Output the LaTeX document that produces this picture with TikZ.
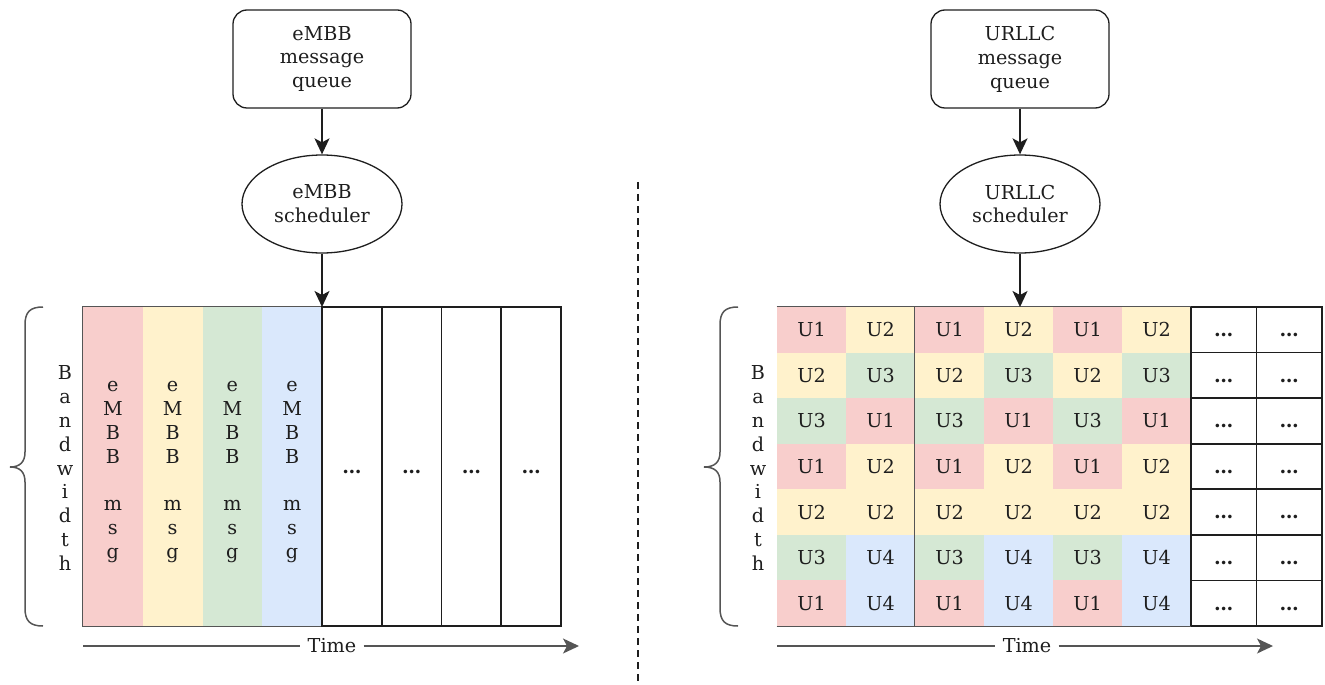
\documentclass[tikz,border=0pt]{standalone}
\usepackage{fontspec}
\setmainfont{DejaVu Serif}
\usetikzlibrary{shapes.geometric,arrows.meta}

\definecolor{cU1}{HTML}{F8CECC}
\definecolor{cU2}{HTML}{FFF2CC}
\definecolor{cU3}{HTML}{D5E8D4}
\definecolor{cU4}{HTML}{DAE8FC}
\definecolor{ink}{HTML}{1E1E1E}
\definecolor{edge}{HTML}{555555}

\begin{document}
\begin{tikzpicture}[x=0.5pt,y=-0.5pt,
  every node/.style={font=\fontsize{9.6}{11.95}\selectfont, text=ink},
  queuebox/.style={draw=ink, rounded corners=7pt, line width=0.65pt,
    minimum width=89pt, minimum height=49pt, align=center, inner sep=0pt},
  sched/.style={draw=ink, ellipse, line width=0.65pt, minimum width=80pt,
    minimum height=49pt, align=center, inner sep=0pt},
  flow/.style={draw=ink, line width=0.7pt, -{Stealth[length=8pt,width=7.5pt,inset=2pt]}},
  axisline/.style={draw=edge, line width=0.65pt},
  timelbl/.style={fill=white, inner xsep=3.5pt, inner ysep=1pt},
  msgcol/.style={minimum width=29.875pt, minimum height=159.5pt, inner sep=0pt, align=center},
  freecol/.style={msgcol, draw=ink, line width=0.8pt},
  cell/.style={minimum width=34.5pt, minimum height=22.786pt, inner sep=0pt},
  freecell/.style={minimum width=32.75pt, minimum height=22.786pt, inner sep=0pt, draw=ink, line width=0.8pt},
  U1/.style={fill=cU1}, U2/.style={fill=cU2}, U3/.style={fill=cU3}, U4/.style={fill=cU4},
  brace/.style={draw=edge, line width=0.75pt},
  divider/.style={draw=ink, line width=0.9pt, dash pattern=on 3.5pt off 2.5pt}
]
\useasboundingbox (0,0) rectangle (1325,684);

% ---------------- eMBB side ----------------
\node[queuebox] (qE) at (322,59) {eMBB\\message\\queue};
\node[sched] (sE) at (322,204) {eMBB\\scheduler};
\coordinate (gE) at (322,307);
\draw[flow] (qE) -- (sE);
\draw[flow] (sE) -- (gE);

% columns of the eMBB frame
\foreach \i/\c in {0/cU1,1/cU2,2/cU3,3/cU4}
  \node[msgcol, fill=\c] (colL\i) at ({112.875+59.75*\i},466.5) {};
\foreach \i in {0,...,3}
  \node[align=center] (msgL\i) at ({112.875+59.75*\i},472) {e\\M\\B\\B\\[11.95pt]m\\s\\g};
\draw[draw=edge, line width=0.75pt] (colL0.north west) rectangle (colL3.south east);
\foreach \i in {4,...,7}
  \node[freecol] (colL\i) at ({112.875+59.75*\i},466.5) {\vphantom{U}\textbf{\dots}};

\node[align=center] (bwL) at (65,468) {B\\a\\n\\d\\w\\i\\d\\t\\h};
\draw[brace] (43,307) .. controls (30,307) and (25,312) .. (25,325) -- (25,452)
  .. controls (25,462) and (20,467) .. (10,467)
  .. controls (20,467) and (25,472) .. (25,482) -- (25,608)
  .. controls (25,621) and (30,626) .. (43,626);

\coordinate (tL0) at (83,646);
\coordinate (tL1) at (579,646);
\node[timelbl] (timeL) at (332,646) {Time};
\draw[axisline] (tL0) -- (timeL);
\draw[axisline, -{Stealth[length=8pt,width=7.5pt,inset=2pt]}] (timeL) -- (tL1);

% ---------------- divider ----------------
\coordinate (divT) at (638,182);
\coordinate (divB) at (638,684);
\draw[divider] (divT) -- (divB);

% ---------------- URLLC side ----------------
\node[queuebox] (qU) at (1020,59) {URLLC\\message\\queue};
\node[sched] (sU) at (1020,204) {URLLC\\scheduler};
\coordinate (gU) at (1020,307);
\draw[flow] (qU) -- (sU);

% resource grid: users alternate column by column in each row
\foreach \r/\a/\b in {0/U1/U2,1/U2/U3,2/U3/U1,3/U1/U2,4/U2/U2,5/U3/U4,6/U1/U4}{
  \foreach \c in {0,2,4}
    \node[cell, \a] (cR-\r-\c) at ({811.5+69*\c},{329.79+45.571*\r}) {\a};
  \foreach \c in {1,3,5}
    \node[cell, \b] (cR-\r-\c) at ({811.5+69*\c},{329.79+45.571*\r}) {\b};
  \node[freecell] (cR-\r-6) at (1223.75,{329.79+45.571*\r}) {\vphantom{U}\textbf{\dots}};
  \node[freecell] (cR-\r-7) at (1289.25,{329.79+45.571*\r}) {\vphantom{U}\textbf{\dots}};
}
\draw[draw=edge, line width=0.75pt] (cR-0-0.north west) -- (cR-0-5.north east);
\draw[draw=edge, line width=0.75pt] (cR-6-0.south west) -- (cR-6-5.south east);
\draw[draw=edge, line width=0.4pt] (cR-0-2.north west) -- (cR-6-2.south west);
\draw[flow] (sU) -- (gU);

\node[align=center] (bwU) at (758,468) {B\\a\\n\\d\\w\\i\\d\\t\\h};
\draw[brace] (738,307) .. controls (725,307) and (720,312) .. (720,325) -- (720,452)
  .. controls (720,462) and (715,467) .. (704,467)
  .. controls (715,467) and (720,472) .. (720,482) -- (720,608)
  .. controls (720,621) and (725,626) .. (738,626);

\coordinate (tU0) at (777,646);
\coordinate (tU1) at (1273,646);
\node[timelbl] (timeU) at (1027,646) {Time};
\draw[axisline] (tU0) -- (timeU);
\draw[axisline, -{Stealth[length=8pt,width=7.5pt,inset=2pt]}] (timeU) -- (tU1);
\end{tikzpicture}
\end{document}
